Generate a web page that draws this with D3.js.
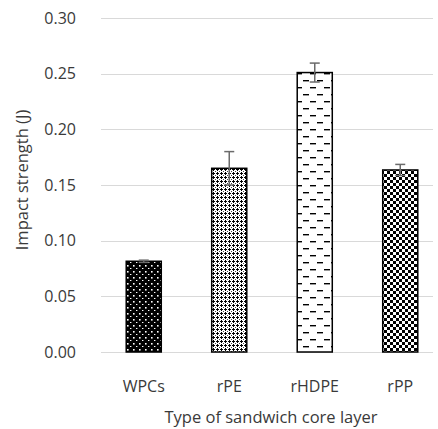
<!DOCTYPE html>
<html>
<head>
<meta charset="utf-8">
<script src="https://d3js.org/d3.v7.min.js"></script>
<style>
  body { margin: 0; background: #fff; }
  text { font-family: "Open Sans", "Noto Sans", sans-serif; font-weight: 400; fill: #3a3a3a; }
</style>
</head>
<body>
<div id="chart"></div>
<script>
// values
const categories = ["WPCs", "rPE", "rHDPE", "rPP"];
const impact = [0.0815, 0.165, 0.251, 0.1635];
const errors = [0.001, 0.015, 0.0085, 0.005];
const yTicks = [0, 0.05, 0.10, 0.15, 0.20, 0.25, 0.30];
const patternIds = ["pat-dots", "pat-cross", "pat-dash", "pat-check"];

const width = 438, height = 429;
const margin = { top: 18, left: 101, right: 5, bottom: 77 };

const svg = d3.select("#chart")
    .append("svg")
    .attr("width", width)
    .attr("height", height);

const defs = svg.append("defs");

// black with white dots
let p = defs.append("pattern").attr("id", "pat-dots")
    .attr("patternUnits", "userSpaceOnUse").attr("width", 6).attr("height", 6);
p.append("rect").attr("width", 6).attr("height", 6).attr("fill", "#000");
p.append("rect").attr("x", 1).attr("y", 1).attr("width", 1.6).attr("height", 1.6).attr("fill", "#fff");
p.append("rect").attr("x", 4).attr("y", 4).attr("width", 1.4).attr("height", 1).attr("fill", "#fff");

// small crosses / diamonds
p = defs.append("pattern").attr("id", "pat-cross")
    .attr("patternUnits", "userSpaceOnUse").attr("width", 4).attr("height", 4);
p.append("rect").attr("width", 4).attr("height", 4).attr("fill", "#fff");
p.append("rect").attr("x", 1).attr("y", 0).attr("width", 1).attr("height", 3).attr("fill", "#000");
p.append("rect").attr("x", 0).attr("y", 1).attr("width", 3).attr("height", 1).attr("fill", "#000");
p.append("rect").attr("x", 3).attr("y", 3).attr("width", 1).attr("height", 1).attr("fill", "#444");

// dashed horizontal
p = defs.append("pattern").attr("id", "pat-dash")
    .attr("patternUnits", "userSpaceOnUse").attr("width", 14).attr("height", 14);
p.append("rect").attr("width", 14).attr("height", 14).attr("fill", "#fff");
p.append("rect").attr("x", 2).attr("y", 3).attr("width", 6).attr("height", 1.4).attr("fill", "#000");
p.append("rect").attr("x", 9).attr("y", 10).attr("width", 6).attr("height", 1.4).attr("fill", "#000");
p.append("rect").attr("x", -5).attr("y", 10).attr("width", 6).attr("height", 1.4).attr("fill", "#000");

// checkerboard
p = defs.append("pattern").attr("id", "pat-check")
    .attr("patternUnits", "userSpaceOnUse").attr("width", 6).attr("height", 6);
p.append("rect").attr("width", 6).attr("height", 6).attr("fill", "#fff");
p.append("rect").attr("width", 3).attr("height", 3).attr("fill", "#000");
p.append("rect").attr("x", 3).attr("y", 3).attr("width", 3).attr("height", 3).attr("fill", "#000");

const x = d3.scaleBand()
    .domain(categories)
    .range([margin.left, margin.left + 4 * 85.5])
    .paddingInner(0.59)
    .paddingOuter(0.295);

const y = d3.scaleLinear()
    .domain([0, 0.30])
    .range([352, 18]);

const gridRight = 433;

// gridlines
svg.append("g")
    .selectAll("line")
    .data(yTicks)
    .enter()
    .append("line")
    .attr("x1", margin.left)
    .attr("x2", gridRight)
    .attr("y1", d => Math.round(y(d)) + 0.5)
    .attr("y2", d => Math.round(y(d)) + 0.5)
    .attr("stroke", "#d9d9d9")
    .attr("stroke-width", 1);

// y tick labels
svg.append("g")
    .selectAll("text")
    .data(yTicks)
    .enter()
    .append("text")
    .attr("x", 76)
    .attr("y", d => y(d))
    .attr("dy", "0.35em")
    .attr("text-anchor", "end")
    .attr("font-size", "16px")
    .text(d => d3.format(".2f")(d));

// bars
svg.append("g")
    .selectAll("rect")
    .data(categories)
    .enter()
    .append("rect")
    .attr("x", d => x(d))
    .attr("width", x.bandwidth())
    .attr("y", (d, i) => y(impact[i]))
    .attr("height", (d, i) => y(0) - y(impact[i]))
    .attr("fill", (d, i) => `url(#${patternIds[i]})`)
    .attr("stroke", "#000")
    .attr("stroke-width", 1.5);

// error bars
const err = svg.append("g")
    .attr("stroke", "#6b6b6b")
    .attr("stroke-width", 1.5);

categories.forEach((c, i) => {
    const cx = x(c) + x.bandwidth() / 2;
    const hi = y(impact[i] + errors[i]);
    const lo = y(impact[i] - errors[i]);
    err.append("line").attr("x1", cx).attr("x2", cx).attr("y1", hi).attr("y2", lo);
    err.append("line").attr("x1", cx - 5).attr("x2", cx + 5).attr("y1", hi).attr("y2", hi);
    err.append("line").attr("x1", cx - 5).attr("x2", cx + 5).attr("y1", lo).attr("y2", lo);
});

// x labels
svg.append("g")
    .selectAll("text")
    .data(categories)
    .enter()
    .append("text")
    .attr("x", d => x(d) + x.bandwidth() / 2)
    .attr("y", 392)
    .attr("text-anchor", "middle")
    .attr("font-size", "16px")
    .text(d => d);

// axis titles
svg.append("text")
    .attr("x", 271)
    .attr("y", 423)
    .attr("text-anchor", "middle")
    .attr("font-size", "16.5px")
    .text("Type of sandwich core layer");

svg.append("text")
    .attr("transform", "translate(28, 180) rotate(-90)")
    .attr("text-anchor", "middle")
    .attr("font-size", "16.5px")
    .text("Impact strength (J)");
</script>
</body>
</html>
